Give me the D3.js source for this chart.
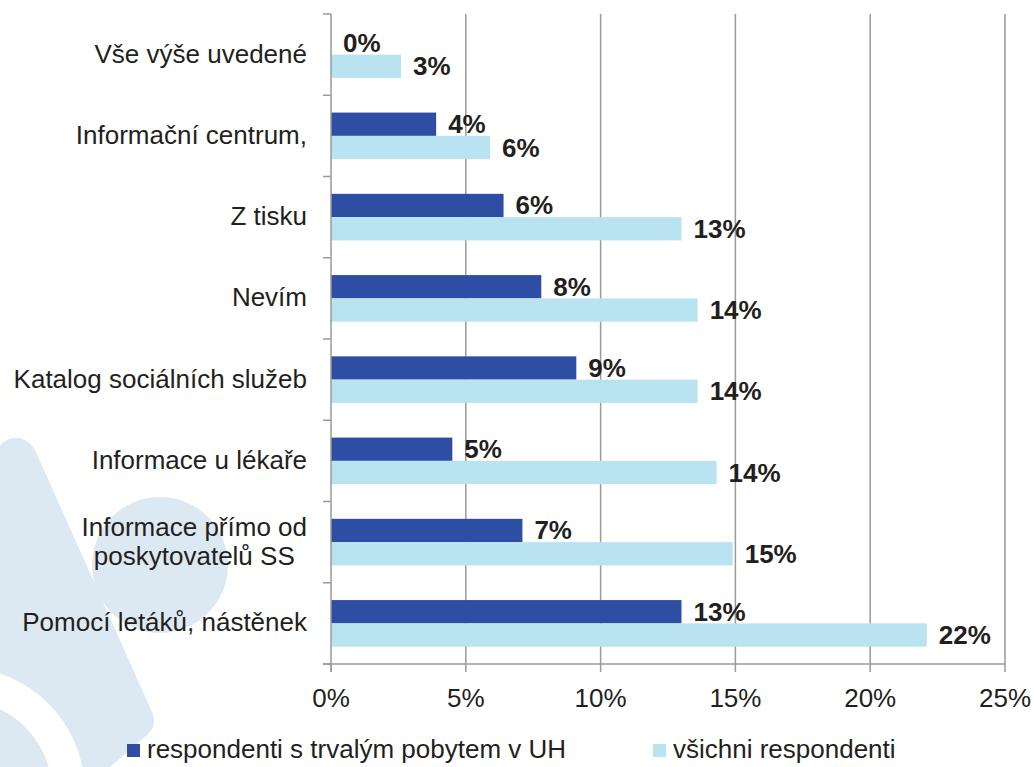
<!DOCTYPE html>
<html>
<head>
<meta charset="utf-8">
<script src="https://cdn.jsdelivr.net/npm/d3@7"></script>
<style>
  html, body { margin: 0; padding: 0; background: #fff; }
  svg { display: block; font-family: "Liberation Sans", Arial, sans-serif; }
</style>
</head>
<body>
<div id="chart"></div>
<script>
// data (percent), top to bottom
const categories = [
  'Vše výše uvedené',
  'Informační centrum,',
  'Z tisku',
  'Nevím',
  'Katalog sociálních služeb',
  'Informace u lékaře',
  'Informace přímo od\nposkytovatelů SS',
  'Pomocí letáků, nástěnek'
];
const seriesNames = ['respondenti s trvalým pobytem v UH', 'všichni respondenti'];
const residents = [0, 3.9, 6.4, 7.8, 9.1, 4.5, 7.1, 13.0];
const allResp = [2.6, 5.9, 13.0, 13.6, 13.6, 14.3, 14.9, 22.1];
const xTicks = [0, 5, 10, 15, 20, 25];
const colors = ['#2e4ea3', '#b9e3f0'];

const W = 1034, H = 767;
const margin = { top: 14, right: 29, bottom: 103, left: 331 };
const width = W - margin.left - margin.right;
const height = H - margin.top - margin.bottom;
const textColor = '#231f20';
const gridColor = '#9a9a9a';
const fs = '26px';

const svg = d3.select('#chart').append('svg')
  .attr('width', W)
  .attr('height', H);

// faint background watermark
const wm = svg.append('g').attr('class', 'watermark');
wm.append('path')
  .attr('d', 'M0,446 C4,440 11,437 18,438 C26,439 32,444 36,452 L152,712 C156,722 154,730 146,736 L110,767 L0,767 Z')
  .attr('fill', '#dce9f3');
wm.append('circle').attr('cx', 160).attr('cy', 565).attr('r', 68).attr('fill', '#dce9f3');
wm.append('path')
  .attr('d', d3.arc().innerRadius(92).outerRadius(125).startAngle(0).endAngle(Math.PI / 2)())
  .attr('transform', 'translate(-40,792)')
  .attr('fill', '#fff');

const g = svg.append('g')
  .attr('transform', `translate(${margin.left},${margin.top})`);

const x = d3.scaleLinear().domain([0, 25]).range([0, width]);
const y = d3.scaleBand().domain(categories).range([0, height]);
const bandPad = (y.bandwidth() - 46.6) / 2;
const y1 = d3.scaleBand().domain([0, 1]).range([bandPad, y.bandwidth() - bandPad]);

// vertical gridlines
g.selectAll('.grid')
  .data(xTicks.slice(1))
  .enter().append('line')
  .attr('x1', d => x(d)).attr('x2', d => x(d))
  .attr('y1', 0).attr('y2', height)
  .attr('stroke', gridColor).attr('stroke-width', 1.5);

// bars
const rows = categories.map((c, i) => ({ cat: c, vals: [residents[i], allResp[i]] }));
const grp = g.selectAll('.row')
  .data(rows)
  .enter().append('g')
  .attr('transform', d => `translate(0,${y(d.cat)})`);

grp.selectAll('rect')
  .data(d => d.vals.map((v, s) => ({ v, s })))
  .enter().append('rect')
  .attr('x', 0)
  .attr('y', d => y1(d.s))
  .attr('width', d => x(d.v))
  .attr('height', y1.bandwidth())
  .attr('fill', d => colors[d.s]);

grp.selectAll('.lbl')
  .data(d => d.vals.map((v, s) => ({ v, s })))
  .enter().append('text')
  .attr('x', d => x(d.v) + 12)
  .attr('y', d => y1(d.s) + y1.bandwidth() / 2 + 9)
  .attr('fill', textColor)
  .style('font-size', fs)
  .style('font-weight', 'bold')
  .text(d => `${Math.round(d.v)}%`);

// y axis
const yAxis = g.append('g');
yAxis.append('line')
  .attr('x1', 0).attr('x2', 0).attr('y1', 0).attr('y2', height + 8)
  .attr('stroke', gridColor).attr('stroke-width', 1.5);
yAxis.selectAll('.yt')
  .data(d3.range(categories.length + 1))
  .enter().append('line')
  .attr('x1', -8).attr('x2', 0)
  .attr('y1', d => d * y.step()).attr('y2', d => d * y.step())
  .attr('stroke', gridColor).attr('stroke-width', 1.5);

// category labels (multi-line centred like Excel)
categories.forEach((c) => {
  const lines = c.split('\n');
  const t = g.append('text')
    .attr('fill', textColor)
    .style('font-size', fs);
  const lh = 29;
  const cy = y(c) + y.bandwidth() / 2 + 8 - (lines.length - 1) * lh / 2;
  lines.forEach((ln, k) => {
    t.append('tspan').attr('y', cy + k * lh).text(ln);
  });
  const tspans = t.selectAll('tspan').nodes();
  const widths = tspans.map(n => n.getComputedTextLength());
  const maxW = d3.max(widths);
  const center = -24 - maxW / 2;
  tspans.forEach((n) => {
    d3.select(n).attr('x', center).attr('text-anchor', 'middle');
  });
});

// x axis
const xAxis = g.append('g').attr('transform', `translate(0,${height})`);
xAxis.append('line')
  .attr('x1', -8).attr('x2', width)
  .attr('stroke', gridColor).attr('stroke-width', 1.5);
xAxis.selectAll('.xt')
  .data(xTicks)
  .enter().append('line')
  .attr('x1', d => x(d)).attr('x2', d => x(d))
  .attr('y1', 0).attr('y2', 8)
  .attr('stroke', gridColor).attr('stroke-width', 1.5);
xAxis.selectAll('.xl')
  .data(xTicks)
  .enter().append('text')
  .attr('x', d => x(d))
  .attr('y', 43)
  .attr('text-anchor', 'middle')
  .attr('fill', textColor)
  .style('font-size', fs)
  .text(d => `${d}%`);

// legend
const legendPos = [127, 653];
const legend = svg.selectAll('.legend')
  .data(seriesNames)
  .enter().append('g')
  .attr('transform', (d, i) => `translate(${legendPos[i]},744)`);
legend.append('rect')
  .attr('width', 13).attr('height', 13)
  .attr('fill', (d, i) => colors[i]);
legend.append('text')
  .attr('x', 20).attr('y', 14)
  .attr('fill', textColor)
  .style('font-size', fs)
  .text(d => d);
</script>
</body>
</html>
